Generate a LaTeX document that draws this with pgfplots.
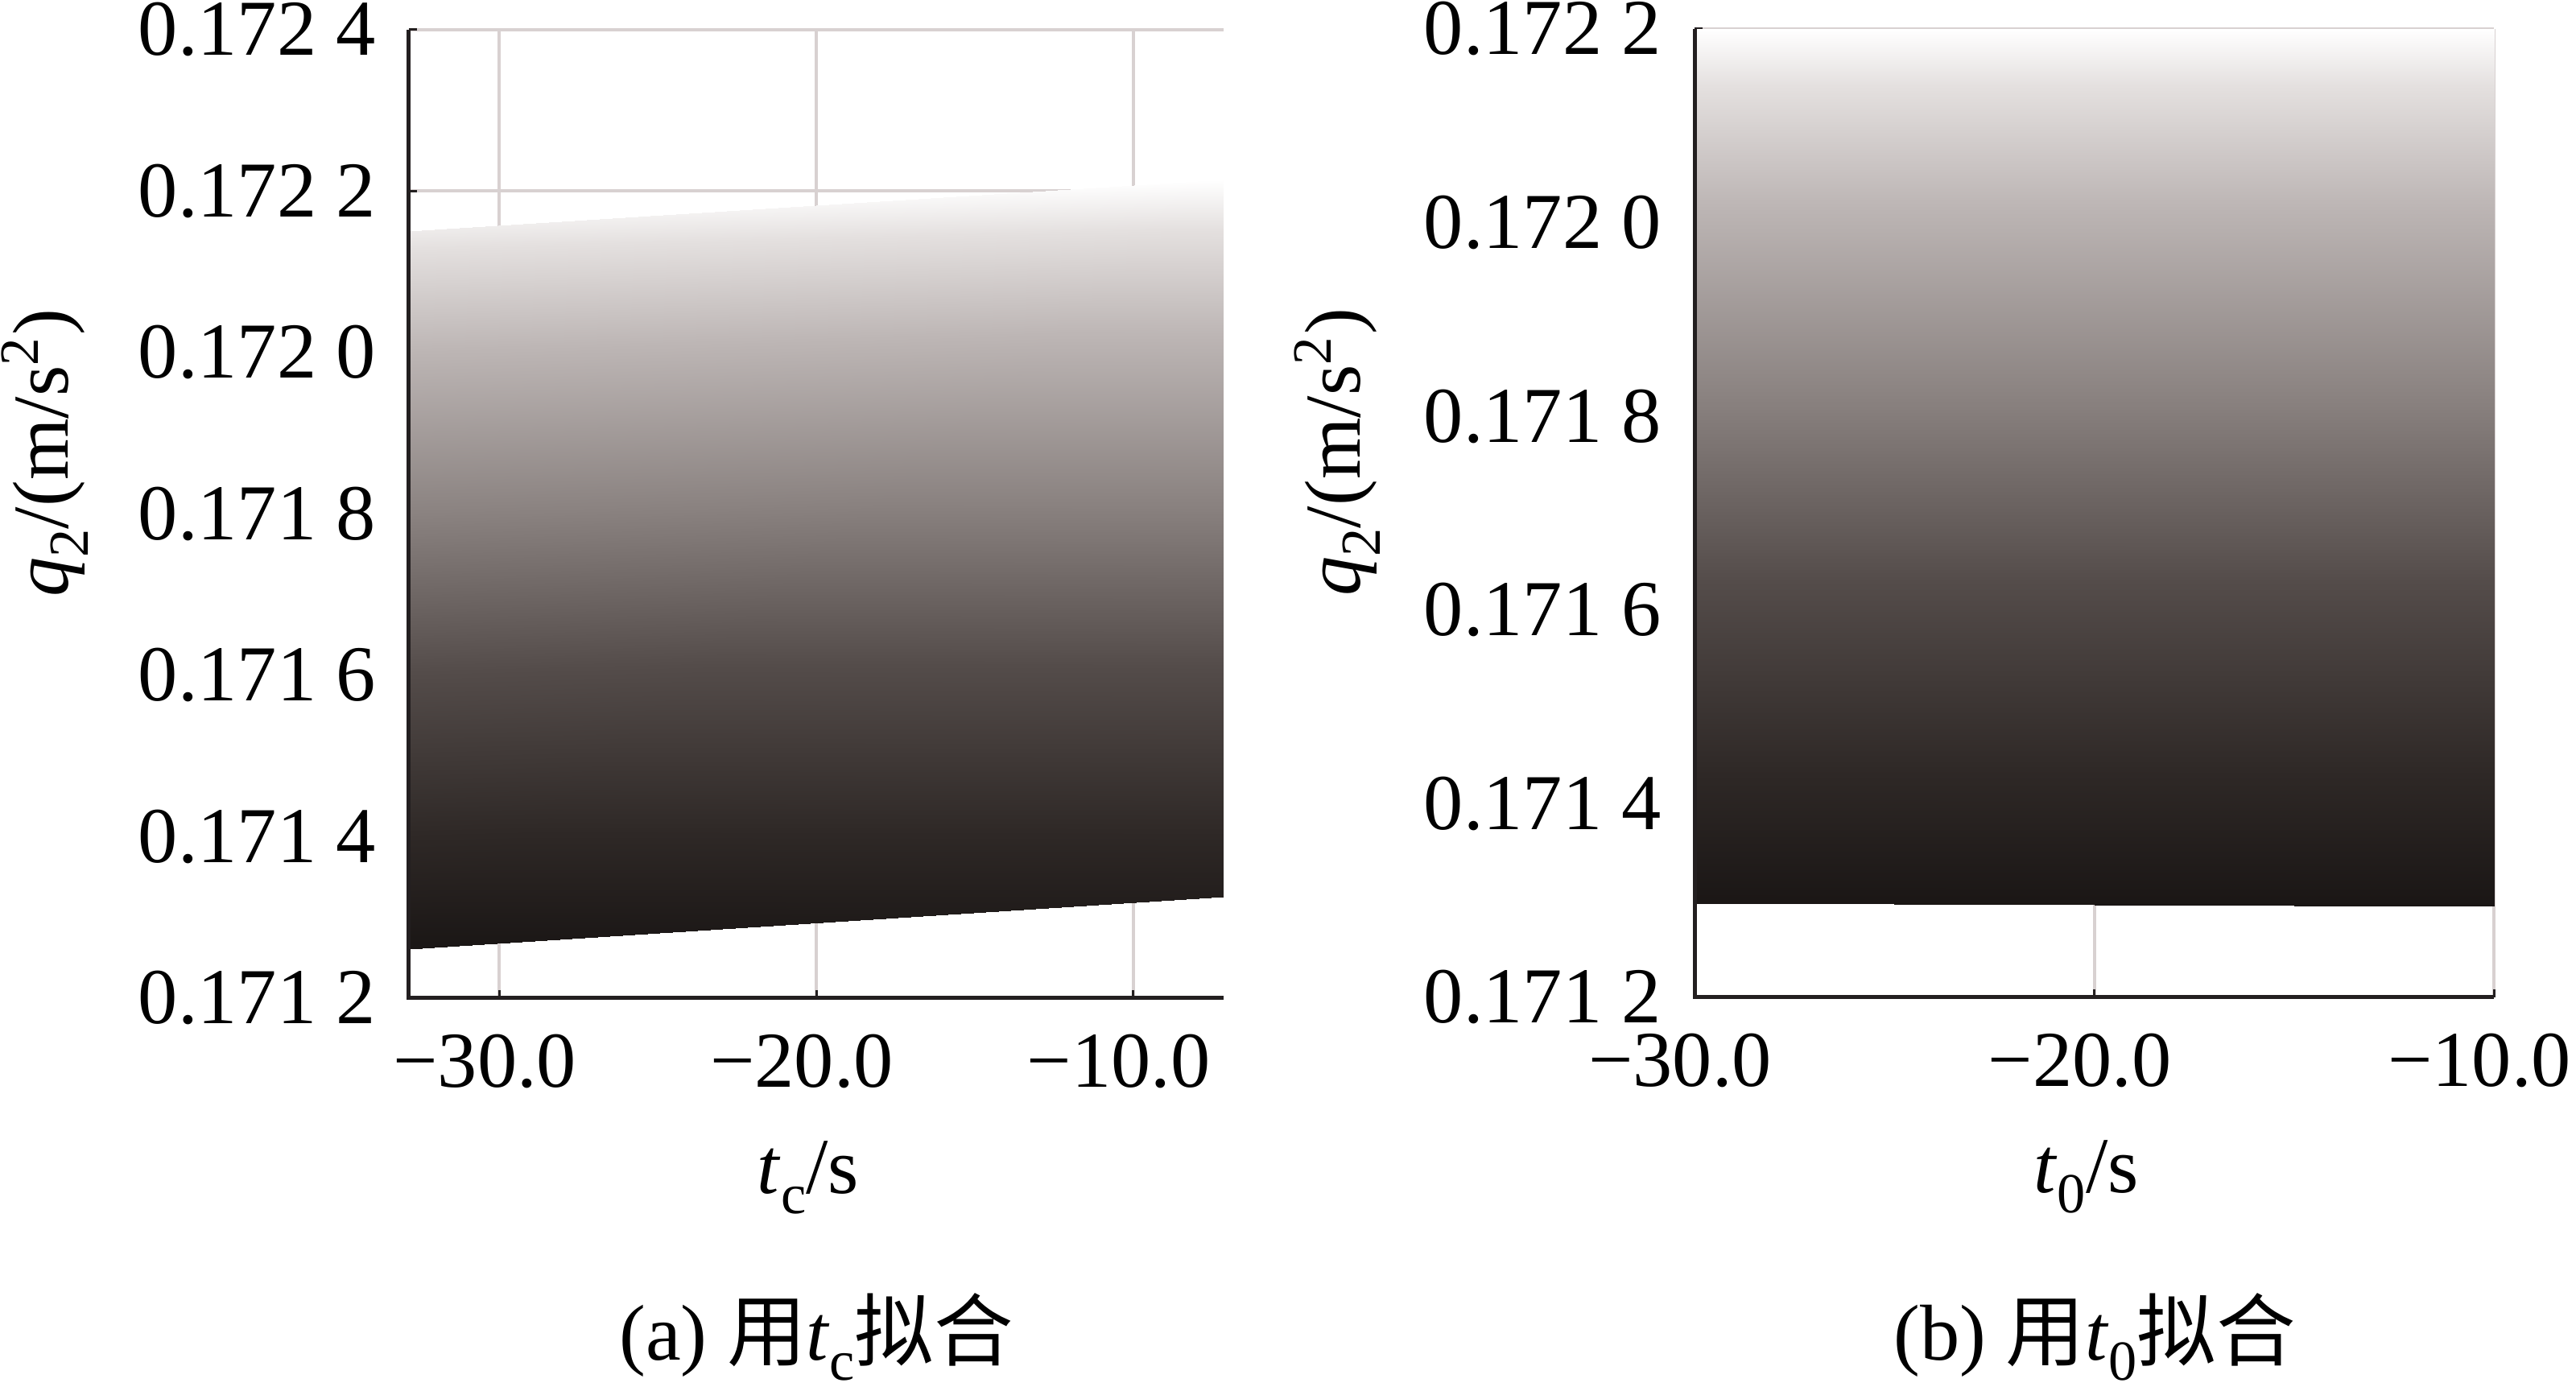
\documentclass[border=0pt]{standalone}
\usepackage{fontspec}
\setmainfont{Liberation Serif}
\newfontfamily\cjk{Noto Sans CJK SC}
\usepackage{pgfplots}
\pgfplotsset{compat=1.18}
\definecolor{gridc}{RGB}{216,209,209}
\definecolor{axc}{RGB}{35,31,32}
\newcommand{\fs}{\fontsize{14}{16}\selectfont}
\newcommand{\sbs}[1]{\raisebox{-0.55ex}{\fontsize{10}{12}\selectfont #1}}

% y values: q2 in units of 1e-6 m/s^2 above 0.171 (120 -> 0.171 2, 240 -> 0.172 4)
\pgfplotsset{
  q2ax/.style={
    anchor=south west, scale only axis, height=60.15mm,
    axis x line=bottom, axis y line=left,
    axis line style={-, axc, line width=0.25mm},
    tick align=inside, major tick length=0.5mm,
    major tick style={axc, line width=0.15mm},
    grid=major, major grid style={gridc, line width=0.2mm},
    tick label style={font=\fs},
    label style={font=\fs},
    yticklabel style={xshift=-0.8mm},
    xticklabel style={yshift=-1.0mm, xshift=-0.9mm},
    xlabel style={at={(axis description cs:0.49,-0.202)}, anchor=base},
    ylabel style={at={(axis description cs:-0.447,0.563)}, anchor=center},
    ylabel={\textit{q}\sbs{2}/(m/s\textsuperscript{2})},
    xtick={-30,-20,-10}, xticklabels={−30.0,−20.0,−10.0},
    colormap={q2gray}{rgb255(0cm)=(26,22,21) rgb255(1.5cm)=(46,40,38) rgb255(3.7cm)=(84,76,74) rgb255(5.8cm)=(138,130,128) rgb255(8cm)=(189,182,181) rgb255(9.35cm)=(228,224,223) rgb255(10cm)=(255,255,255)},
    clip=false,
  }
}

\begin{document}
\begin{tikzpicture}
\useasboundingbox (0,0) rectangle (160mm,86.15mm);

% (a)
\begin{axis}[q2ax,
  at={(25.4mm,24.15mm)}, width=50.6mm,
  xmin=-32.85, xmax=-7.15, ymin=120, ymax=240,
  ytick={120,140,160,180,200,220,240},
  yticklabels={0.171 2,0.171 4,0.171 6,0.171 8,0.172 0,0.172 2,0.172 4},
  xlabel={\textit{t}\sbs{c}/s},
]
\addplot[patch, shader=interp, point meta=y, point meta min=126, point meta max=219] coordinates {
  (-32.85,126.1) (-7.15,132.6) (-7.15,221.4)
  (-32.85,126.1) (-7.15,221.4) (-32.85,215.1)
};
\draw[axc, line width=0.25mm] (rel axis cs:0,1) -- (rel axis cs:0,0) -- (rel axis cs:1,0);
\end{axis}

% (b)
\begin{axis}[q2ax,
  at={(105.25mm,24.2mm)}, width=49.65mm,
  xmin=-30, xmax=-10, ymin=120, ymax=220,
  ytick={120,140,160,180,200,220},
  yticklabels={0.171 2,0.171 4,0.171 6,0.171 8,0.172 0,0.172 2},
  xlabel={\textit{t}\sbs{0}/s},
]
\addplot[patch, shader=interp, point meta=y, point meta min=129.4, point meta max=220] coordinates {
  (-30,129.7) (-10,129.4) (-10,220)
  (-30,129.7) (-10,220) (-30,220)
};
\draw[axc, line width=0.25mm] (rel axis cs:0,1) -- (rel axis cs:0,0) -- (rel axis cs:1,0);
\end{axis}

\node[anchor=base, font=\fs] at (50.7mm,1.65mm) {(a) {\cjk 用}\textit{t}\sbs{c}{\cjk 拟合}};
\node[anchor=base, font=\fs] at (130.1mm,1.65mm) {(b) {\cjk 用}\textit{t}\sbs{0}{\cjk 拟合}};
\end{tikzpicture}
\end{document}
